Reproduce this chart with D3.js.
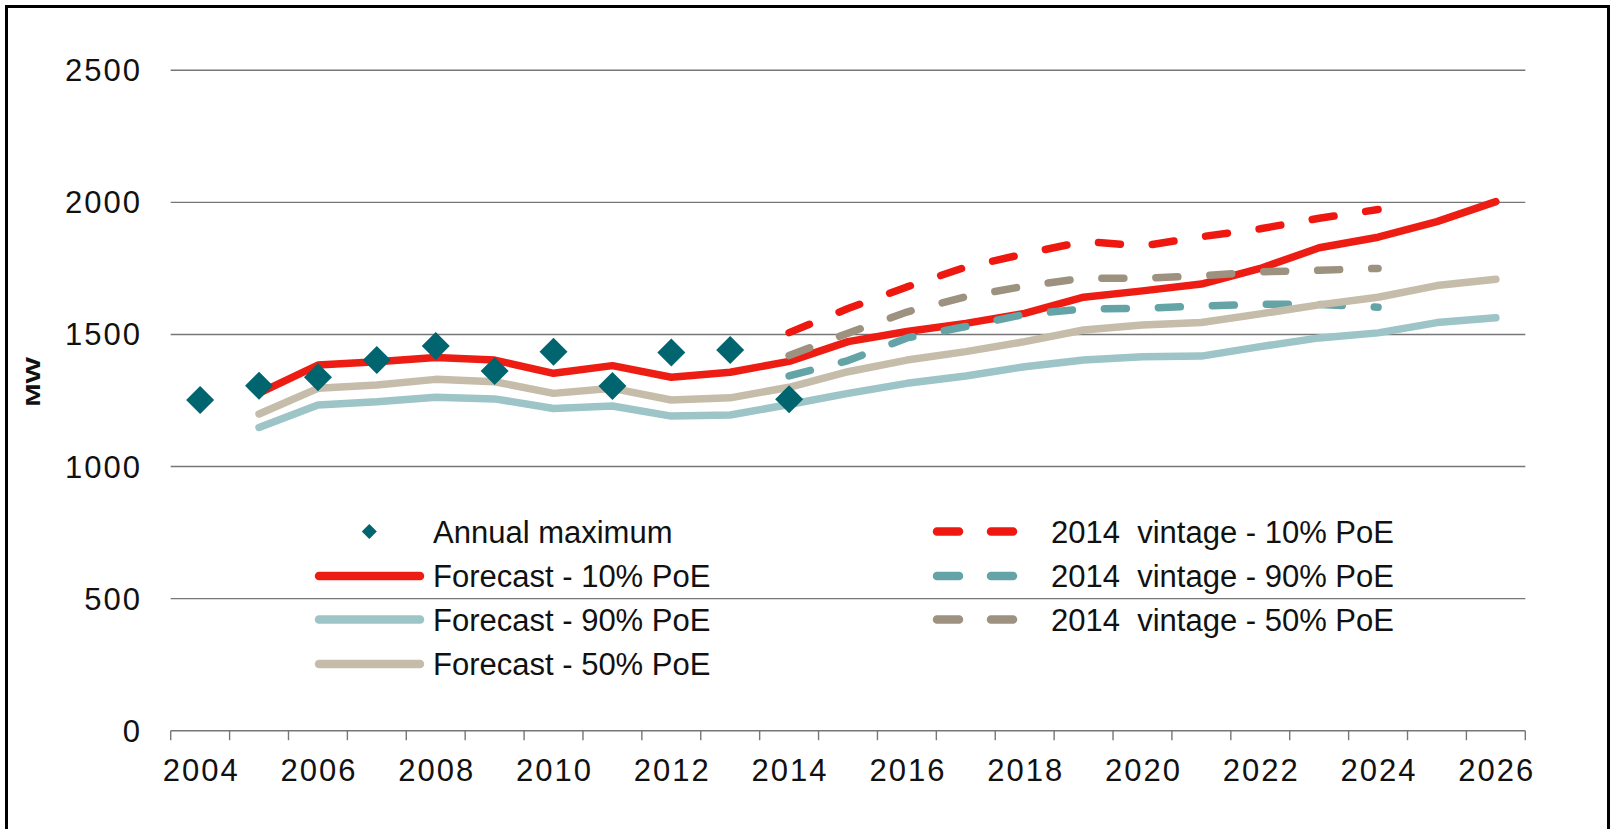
<!DOCTYPE html>
<html>
<head>
<meta charset="utf-8">
<script src="https://cdn.jsdelivr.net/npm/d3@7"></script>
<style>
  html, body { margin: 0; padding: 0; background: #fff; }
  svg { display: block; }
  text { font-family: "Liberation Sans", Arial, sans-serif; fill: #111; }
  .leg-text { white-space: pre; }
</style>
</head>
<body>
<svg id="chart" width="1614" height="829"></svg>
<script>
// ── Data (MW) ──
const years = [2004, 2005, 2006, 2007, 2008, 2009, 2010, 2011, 2012, 2013, 2014, 2015,
               2016, 2017, 2018, 2019, 2020, 2021, 2022, 2023, 2024, 2025, 2026];
const yTicks = [0, 500, 1000, 1500, 2000, 2500];
const xLabelYears = [2004, 2006, 2008, 2010, 2012, 2014, 2016, 2018, 2020, 2022, 2024, 2026];

const maxYears = [2004, 2005, 2006, 2007, 2008, 2009, 2010, 2011, 2012, 2013, 2014];
const annualMax = [1252, 1306, 1338, 1403, 1456, 1362, 1435, 1305, 1432, 1441, 1255];

const forecastYears = [2005, 2006, 2007, 2008, 2009, 2010, 2011, 2012, 2013, 2014, 2015,
                       2016, 2017, 2018, 2019, 2020, 2021, 2022, 2023, 2024, 2025, 2026];
const forecast10 = [1278, 1384, 1397, 1413, 1403, 1353, 1382, 1338, 1357, 1398, 1473,
                    1511, 1542, 1580, 1641, 1665, 1691, 1750, 1828, 1868, 1927, 2003];
const forecast90 = [1148, 1233, 1245, 1262, 1256, 1220, 1229, 1191, 1195, 1235, 1277,
                    1315, 1343, 1378, 1403, 1416, 1418, 1454, 1487, 1506, 1545, 1563];
const forecast50 = [1199, 1296, 1309, 1330, 1321, 1277, 1296, 1252, 1260, 1300, 1359,
                    1403, 1435, 1473, 1517, 1536, 1545, 1578, 1612, 1641, 1685, 1709];

const vintageYears = [2014, 2015, 2016, 2017, 2018, 2019, 2020, 2021, 2022, 2023, 2024];
const vintage10 = [1507, 1598, 1680, 1755, 1805, 1852, 1835, 1870, 1900, 1940, 1973];
const vintage90 = [1343, 1401, 1487, 1530, 1576, 1596, 1599, 1608, 1614, 1614, 1603];
const vintage50 = [1420, 1505, 1585, 1643, 1683, 1713, 1713, 1722, 1737, 1743, 1750];

const C = {
    red: "#ee1d13",
    redDash: "#ef1810",
    lightTeal: "#9dc4c6",
    beige: "#c5bdaa",
    tealDash: "#64a4a7",
    grayDash: "#9d9180",
    diamond: "#00656f",
    grid: "#767676"
};

const svg = d3.select("#chart");

// outer frame
svg.append("rect")
    .attr("x", 6.5).attr("y", 6.5)
    .attr("width", 1602).attr("height", 840)
    .attr("fill", "none")
    .attr("stroke", "#000")
    .attr("stroke-width", 3);

const x = d3.scaleBand().domain(years).range([170.7, 1525.3]).padding(0);
const xc = yr => x(yr) + x.bandwidth() / 2;
const y = d3.scaleLinear().domain([0, 2500]).range([730.7, 70.3]);

// ── Gridlines & y labels ──
svg.append("g").selectAll("line")
    .data(yTicks)
    .join("line")
    .attr("x1", x.range()[0]).attr("x2", x.range()[1])
    .attr("y1", d => y(d)).attr("y2", d => y(d))
    .attr("stroke", C.grid)
    .attr("stroke-width", 1.4);

svg.append("g").selectAll("text")
    .data(yTicks)
    .join("text")
    .attr("x", 142)
    .attr("y", d => y(d) + 11)
    .attr("text-anchor", "end")
    .style("font-size", "31px")
    .style("letter-spacing", "2px")
    .text(d => d);

// ── x axis ticks (between categories) & labels ──
const boundaries = years.map(d => x(d)).concat([x.range()[1]]);
svg.append("g").selectAll("line")
    .data(boundaries)
    .join("line")
    .attr("x1", d => d).attr("x2", d => d)
    .attr("y1", y(0)).attr("y2", y(0) + 9.5)
    .attr("stroke", C.grid)
    .attr("stroke-width", 1.4);

svg.append("g").selectAll("text")
    .data(xLabelYears)
    .join("text")
    .attr("x", d => xc(d) + 1)
    .attr("y", 780.7)
    .attr("text-anchor", "middle")
    .style("font-size", "31px")
    .style("letter-spacing", "2px")
    .text(d => d);

// y axis title (wide glyphs in the original, so stretch along the text)
svg.append("text")
    .attr("transform", "translate(39.5,382) rotate(-90) scale(1.4,1)")
    .attr("text-anchor", "middle")
    .style("font-size", "20px")
    .style("font-weight", "bold")
    .text("MW");

// ── Series ──
const line = d3.line()
    .defined(d => d.v != null)
    .x(d => xc(d.yr))
    .y(d => y(d.v));

const zip = (yrs, vals) => yrs.map((yr, i) => ({ yr, v: vals[i] }));

const series = [
    { data: zip(forecastYears, forecast10), color: C.red, dash: null },
    { data: zip(vintageYears, vintage10), color: C.redDash, dash: "22,32" },
    { data: zip(vintageYears, vintage90), color: C.tealDash, dash: "22,32" },
    { data: zip(vintageYears, vintage50), color: C.grayDash, dash: "22,32" },
    { data: zip(forecastYears, forecast90), color: C.lightTeal, dash: null },
    { data: zip(forecastYears, forecast50), color: C.beige, dash: null }
];

svg.append("g").selectAll("path")
    .data(series)
    .join("path")
    .attr("d", d => line(d.data))
    .attr("fill", "none")
    .attr("stroke", d => d.color)
    .attr("stroke-width", 7.5)
    .attr("stroke-linecap", "round")
    .attr("stroke-linejoin", "round")
    .attr("stroke-dasharray", d => d.dash);

// diamond marker (square rotated 45deg), size = diagonal
const diamond = size => {
    const h = size / 2;
    return `M0,${-h}L${h},0L0,${h}L${-h},0Z`;
};

svg.append("g").selectAll("path")
    .data(zip(maxYears, annualMax))
    .join("path")
    .attr("transform", d => `translate(${xc(d.yr)},${y(d.v)})`)
    .attr("d", diamond(28))
    .attr("fill", C.diamond);

// ── Legend ──
const legLeft = [
    { label: "Forecast - 10% PoE", color: C.red },
    { label: "Forecast - 90% PoE", color: C.lightTeal },
    { label: "Forecast - 50% PoE", color: C.beige }
];
const legRight = [
    { label: "2014  vintage - 10% PoE", color: C.redDash },
    { label: "2014  vintage - 90% PoE", color: C.tealDash },
    { label: "2014  vintage - 50% PoE", color: C.grayDash }
];
const rowY = [531.5, 576, 619.5, 664];

const leg = svg.append("g");
leg.append("path")
    .attr("transform", `translate(369.3,${rowY[0]})`)
    .attr("d", diamond(15))
    .attr("fill", C.diamond);
leg.append("text")
    .attr("class", "leg-text")
    .attr("x", 433).attr("y", rowY[0] + 11)
    .style("font-size", "31px")
    .text("Annual maximum");

legLeft.forEach((d, i) => {
    const ry = rowY[i + 1];
    leg.append("line")
        .attr("x1", 319).attr("x2", 420)
        .attr("y1", ry).attr("y2", ry)
        .attr("stroke", d.color)
        .attr("stroke-width", 8.5)
        .attr("stroke-linecap", "round");
    leg.append("text")
        .attr("class", "leg-text")
        .attr("x", 433).attr("y", ry + 11)
        .style("font-size", "31px")
        .text(d.label);
});

legRight.forEach((d, i) => {
    const ry = rowY[i];
    leg.append("line")
        .attr("x1", 937).attr("x2", 1014)
        .attr("y1", ry).attr("y2", ry)
        .attr("stroke", d.color)
        .attr("stroke-width", 8.5)
        .attr("stroke-linecap", "round")
        .attr("stroke-dasharray", "22,32");
    leg.append("text")
        .attr("class", "leg-text")
        .attr("x", 1051).attr("y", ry + 11)
        .style("font-size", "31px")
        .text(d.label);
});
</script>
</body>
</html>
